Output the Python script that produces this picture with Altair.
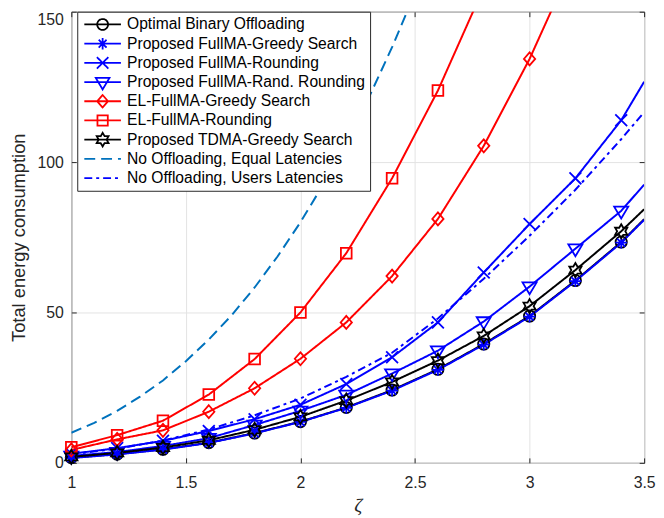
import math
import altair as alt
import pandas as pd

# ---------------- data ----------------
zeta = [1.0, 1.2, 1.4, 1.6, 1.8, 2.0, 2.2, 2.4, 2.6, 2.8, 3.0, 3.2, 3.4, 3.5]
optimal_binary = [1.7, 2.9, 4.5, 6.7, 9.9, 13.7, 18.4, 24.2, 31.1, 39.5, 48.8, 60.6, 73.4, 81.0]
fullma_greedy = [1.6, 2.8, 4.4, 6.6, 9.8, 13.6, 18.3, 24.0, 30.9, 39.3, 48.6, 60.4, 73.2, 80.8]
fullma_rounding = [3.0, 4.9, 7.3, 10.6, 14.5, 19.3, 26.2, 35.1, 46.7, 63.3, 79.4, 94.6, 113.9, 126.7]
fullma_rand_rounding = [2.3, 3.6, 5.6, 8.2, 12.6, 17.3, 22.6, 29.7, 37.3, 47.0, 58.6, 71.2, 83.8, 92.5]
el_greedy = [4.3, 7.8, 10.8, 17.0, 24.8, 34.6, 46.7, 62.1, 81.1, 105.4, 134.3, 168.0, 205.0, 225.0]
el_rounding = [5.2, 9.2, 14.0, 22.7, 34.5, 50.0, 69.7, 94.6, 123.8, 158.0, 198.0, 243.0, 292.0, 320.0]
tdma_greedy = [2.0, 3.3, 5.1, 7.5, 11.0, 15.3, 20.7, 26.9, 34.0, 42.2, 52.1, 64.1, 77.0, 84.3]
no_off_users = [2.8, 4.7, 7.4, 11.1, 15.8, 21.4, 28.6, 36.6, 48.0, 61.2, 75.5, 90.8, 107.6, 116.6]
zeta_fine = [1.0, 1.1, 1.2, 1.3, 1.4, 1.5, 1.6, 1.7, 1.8, 1.9, 2.0, 2.1, 2.2, 2.3, 2.4, 2.5]
no_off_equal = [10.0, 13.3, 17.3, 22.0, 27.4, 33.8, 41.0, 49.1, 58.3, 68.6, 80.0, 92.6, 106.5, 121.7, 138.2, 156.3]

names = [
    "Optimal Binary Offloading",
    "Proposed FullMA-Greedy Search",
    "Proposed FullMA-Rounding",
    "Proposed FullMA-Rand. Rounding",
    "EL-FullMA-Greedy Search",
    "EL-FullMA-Rounding",
    "Proposed TDMA-Greedy Search",
    "No Offloading, Equal Latencies",
    "No Offloading, Users Latencies",
]
series_values = [optimal_binary, fullma_greedy, fullma_rounding, fullma_rand_rounding,
                 el_greedy, el_rounding, tdma_greedy, None, no_off_users]
colors = ["#000000", "#0000FF", "#0000FF", "#0000FF", "#FF0000", "#FF0000",
          "#000000", "#0072BD", "#0000FF"]
dashes = [[1, 0], [1, 0], [1, 0], [1, 0], [1, 0], [1, 0], [1, 0], [11, 6], [8, 4, 3, 4]]
markers = ["circle", "asterisk", "x", "tri", "diamond", "square", "hexagram", None, None]

x_ticks = [1, 1.5, 2, 2.5, 3, 3.5]
y_ticks = [0, 50, 100, 150]

# ---------------- marker geometry (unit coordinates) ----------------
def hexagram(R=1.25):
    r = R / math.sqrt(3)
    pts = []
    for k in range(12):
        a = math.radians(-90 + 30 * k)
        rad = R if k % 2 == 0 else r
        pts.append((rad * math.cos(a), rad * math.sin(a)))
    return [(pts, True)]

d = 0.72
geom = {
    "asterisk": [([(-1.05, 0), (1.05, 0)], False), ([(0, -1.05), (0, 1.05)], False),
                 ([(-d, -d), (d, d)], False), ([(-d, d), (d, -d)], False)],
    "x": [([(-1.05, -1.05), (1.05, 1.05)], False), ([(-1.05, 1.05), (1.05, -1.05)], False)],
    "tri": [([(-1.25, -0.75), (1.25, -0.75), (0, 1.35)], True)],
    "diamond": [([(0, -1.15), (1.0, 0), (0, 1.15), (-1.0, 0)], True)],
    "square": [([(-0.95, -0.95), (0.95, -0.95), (0.95, 0.95), (-0.95, 0.95)], True)],
    "hexagram": hexagram(),
}

def f(v):
    return f"{v:.3f}".rstrip("0").rstrip(".")

def marker_path(m, cx=0.0, k=1.0):
    if m == "circle":
        r = k
        return (f"M{f(cx - r)},0A{f(r)},{f(r)} 0 1 1 {f(cx + r)},0"
                f"A{f(r)},{f(r)} 0 1 1 {f(cx - r)},0Z")
    out = ""
    for pts, closed in geom[m]:
        for i, (px, py) in enumerate(pts):
            out += ("M" if i == 0 else "L") + f"{f(cx + k * px)},{f(k * py)}"
        if closed:
            out += "Z"
    return out

# legend symbols: line segment + marker (legend unit = 5 px)
LEG_CX = 2.35
legend_paths = []
for m in markers:
    p = "M-1.35,0L6.05,0"
    if m is not None:
        p += marker_path(m, cx=LEG_CX, k=1.1)
    legend_paths.append(p)

def ternary(values, quote=True):
    expr = ""
    for i, v in enumerate(values[:-1]):
        vv = f"'{v}'" if quote else v
        expr += f"datum.index == {i} ? {vv} : "
    last = values[-1]
    expr += f"'{last}'" if quote else last
    return expr

shape_expr = ternary(legend_paths)
dash_expr = ternary([str(dd) for dd in dashes], quote=False)

marker_names = [n for n, m in zip(names, markers) if m is not None]
marker_paths = [marker_path(m) for m in markers if m is not None]

# ---------------- tables ----------------
rows = []
pts_rows = []
for n, vals in zip(names, series_values):
    if vals is None:
        for xv, yv in zip(zeta_fine, no_off_equal):
            rows.append({"series": n, "x": xv, "y": yv})
        continue
    for i, (xv, yv) in enumerate(zip(zeta, vals)):
        rows.append({"series": n, "x": xv, "y": yv})
        if n in marker_names and xv <= 3.41:
            pts_rows.append({"series": n, "x": xv, "y": yv})
df = pd.DataFrame(rows)
df_pts = pd.DataFrame(pts_rows)

FONT = "Liberation Sans"
AX = "#262626"
xscale = alt.Scale(domain=[1, 3.5], nice=False, zero=False)
yscale = alt.Scale(domain=[0, 150], nice=False, zero=False)

legend = alt.Legend(
    title=None, orient="none", legendX=6, legendY=0, direction="vertical",
    padding=5, fillColor="white", strokeColor=AX, cornerRadius=0,
    labelFont=FONT, labelFontSize=15.8, labelColor="#000000", labelLimit=400,
    symbolSize=100, symbolStrokeWidth=1.8, symbolOffset=1, labelOffset=28.5,
    rowPadding=-2.6, gridAlign="all",
    symbolType={"expr": shape_expr},
    symbolDash={"expr": dash_expr},
    symbolFillColor="transparent",
    symbolOpacity=1,
)

lines = alt.Chart(df).mark_line(clip=True, strokeWidth=2).encode(
    x=alt.X("x:Q", scale=xscale, axis=alt.Axis(
        values=x_ticks, format="~g", grid=True, gridColor="#E3E3E3", ticks=False,
        domain=False, labelFont=FONT, labelFontSize=16, labelColor=AX, labelPadding=12,
        labelFlush=False, labelOverlap=False, title="ζ", titleFont="Liberation Serif",
        titleFontStyle="italic", titleFontWeight="normal", titleFontSize=20,
        titleColor=AX, titlePadding=5)),
    y=alt.Y("y:Q", scale=yscale, axis=alt.Axis(
        values=y_ticks, format="d", grid=True, gridColor="#E3E3E3", ticks=False,
        domain=False, labelFont=FONT, labelFontSize=16, labelColor=AX, labelPadding=8,
        labelBaseline={"condition": {"test": "datum.value == 150", "value": "top"},
                       "value": "middle"},
        labelFlush=False, labelOverlap=False, title="Total energy consumption",
        titleFont=FONT, titleFontWeight="normal", titleFontSize=18.5, titleColor=AX,
        titlePadding=9)),
    color=alt.Color("series:N", scale=alt.Scale(domain=names, range=colors), legend=legend),
    strokeDash=alt.StrokeDash("series:N", scale=alt.Scale(domain=names, range=dashes), legend=None),
)

points = alt.Chart(df_pts).transform_filter(alt.datum.y <= 150).mark_point(
    filled=False, size=130, strokeWidth=1.8, opacity=1).encode(
    x=alt.X("x:Q", scale=xscale, axis=alt.Axis(
        orient="top", values=x_ticks, labels=False, ticks=True, tickSize=5, tickColor=AX,
        offset=-5, domain=False, grid=False, title=None)),
    y=alt.Y("y:Q", scale=yscale, axis=alt.Axis(
        orient="right", values=y_ticks, labels=False, ticks=True, tickSize=5, tickColor=AX,
        offset=-5, domain=False, grid=False, title=None)),
    color=alt.Color("series:N", legend=None),
    shape=alt.Shape("series:N", scale=alt.Scale(domain=marker_names, range=marker_paths), legend=None),
)

tick_layer = alt.Chart(df_pts).mark_point(opacity=0).encode(
    x=alt.X("x:Q", scale=xscale, axis=alt.Axis(
        orient="bottom", values=x_ticks, labels=False, ticks=True, tickSize=5, tickColor=AX,
        offset=-5, domain=False, grid=False, title=None)),
    y=alt.Y("y:Q", scale=yscale, axis=alt.Axis(
        orient="left", values=y_ticks, labels=False, ticks=True, tickSize=5, tickColor=AX,
        offset=-5, domain=False, grid=False, title=None)),
)

chart = alt.layer(lines, points, tick_layer).resolve_axis(
    x="independent", y="independent"
).properties(
    width=579, height=456,
    autosize=alt.AutoSizeParams(type="none"),
    padding={"left": 64, "top": 1, "right": 12, "bottom": 53},
).configure_view(stroke=AX, strokeWidth=1)

chart.save("out.html", embed_options={"renderer": "svg", "actions": False})
